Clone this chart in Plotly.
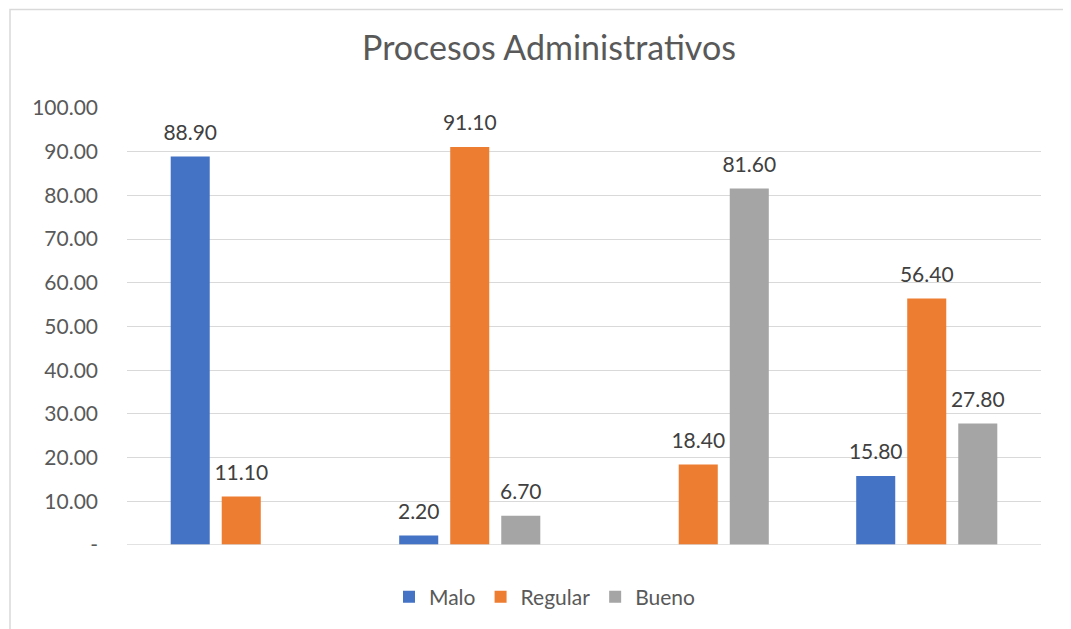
import plotly.graph_objects as go

categories = ["c1", "c2", "c3", "c4"]
malo = [88.90, 2.20, None, 15.80]
regular = [11.10, 91.10, 18.40, 56.40]
bueno = [None, 6.70, 81.60, 27.80]
series_names = ["Malo", "Regular", "Bueno"]
colors = ["#4472C4", "#ED7D31", "#A5A5A5"]
tick_vals = [0, 10, 20, 30, 40, 50, 60, 70, 80, 90, 100]
tick_text = ["-", "10.00", "20.00", "30.00", "40.00", "50.00", "60.00", "70.00", "80.00", "90.00", "100.00"]

FONT = "Lato, 'Open Sans', sans-serif"
W, H = 1063, 621
L, R, T, B = 119, 30, 100, 84
PW, PH = W - L - R, H - T - B

fig = go.Figure()
for i, (name, vals, col) in enumerate(zip(series_names, [malo, regular, bueno], colors)):
    fig.add_trace(go.Bar(
        name=name, x=categories, y=vals, marker=dict(color=col, line=dict(width=0)),
        offsetgroup=str(i), legendgroup=name,
    ))
for i, (name, vals, col) in enumerate(zip(series_names, [malo, regular, bueno], colors)):
    fig.add_trace(go.Scatter(
        name=name, x=categories, y=vals, mode="markers+text",
        marker=dict(size=17, opacity=0, color=col),
        text=[f"{v:.2f}" if v is not None else "" for v in vals],
        textposition="top center", cliponaxis=False, showlegend=False,
        offsetgroup=str(i), legendgroup=name, hoverinfo="skip",
        textfont=dict(size=21, color="#404040", family=FONT),
    ))

fig.update_layout(
    width=W, height=H,
    margin=dict(l=L, r=R, t=T, b=B),
    paper_bgcolor="white", plot_bgcolor="white",
    barmode="group", bargap=0.33, bargroupgap=0.235,
    scattermode="group", scattergap=0.33,
    title=dict(text="Procesos Administrativos", x=(549 - 8) / W, xanchor="center", y=1 - 40 / H,
               yanchor="middle", font=dict(size=34, color="#595959", family=FONT)),
    font=dict(family=FONT, color="#595959"),
    showlegend=True,
    legend=dict(orientation="h", x=(545 - 8 - L) / PW, xanchor="center", y=-(589 - 537) / PH,
                yanchor="middle", font=dict(size=21, color="#595959", family=FONT),
                traceorder="normal"),
    xaxis=dict(showticklabels=False, showgrid=False, zeroline=False, showline=False, ticks=""),
    yaxis=dict(range=[0, 100], tickvals=tick_vals, ticktext=tick_text, showgrid=True,
               gridcolor="#D9D9D9", gridwidth=1, zeroline=False, showline=False,
               tickfont=dict(size=21, color="#595959", family=FONT), ticks="", ticklen=0,
               ticklabelstandoff=28, automargin=False),
)
fig.add_shape(type="line", xref="paper", yref="y", x0=0, x1=1, y0=0, y1=0,
              line=dict(color="#D9D9D9", width=1.5))
fig.add_shape(type="rect", xref="paper", yref="paper",
              x0=(2 - L) / PW, x1=(1060 - L) / PW,
              y0=(PH + T - 640) / PH, y1=(PH + T - 1.5) / PH,
              line=dict(color="#D9D9D9", width=1.5), fillcolor="rgba(0,0,0,0)", layer="below")

fig.write_html("out.html")
